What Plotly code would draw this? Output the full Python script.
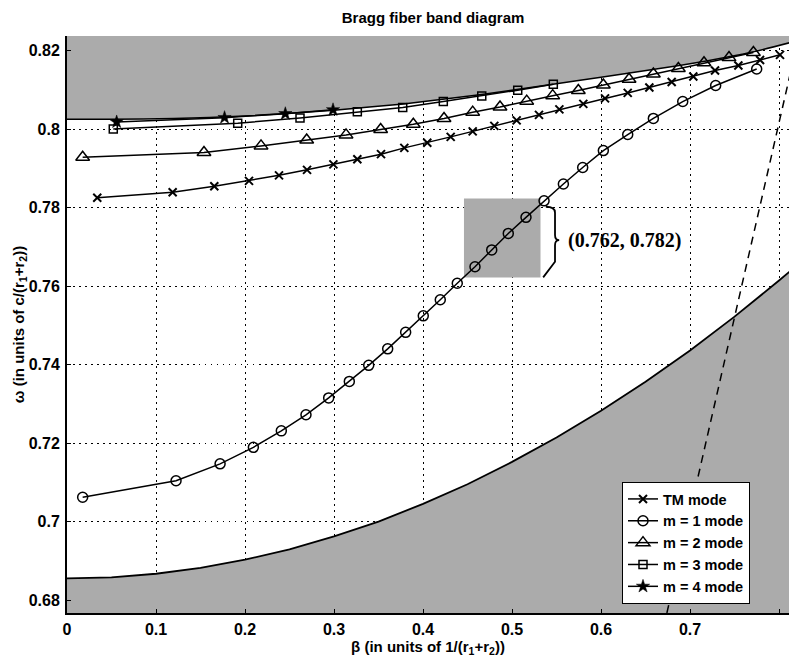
import plotly.graph_objects as go

# ---------------- data ----------------
tm_beta = [0.034, 0.1187, 0.1655, 0.2045, 0.2382, 0.2697, 0.2993, 0.3262, 0.3528, 0.379,
           0.4048, 0.4311, 0.4558, 0.4801, 0.5052, 0.5303, 0.5532, 0.5801, 0.6045, 0.630,
           0.6543, 0.6794, 0.7037, 0.7281, 0.7543, 0.7787, 0.8011]
tm_omega = [0.7825, 0.7839, 0.7854, 0.7868, 0.7882, 0.7896, 0.7910, 0.7923, 0.7936, 0.7952,
            0.7965, 0.7980, 0.7994, 0.8008, 0.8022, 0.8036, 0.8050, 0.8064, 0.8078, 0.8092,
            0.8106, 0.8120, 0.8134, 0.8149, 0.8162, 0.8176, 0.8189]

m1_beta = [0.0176, 0.1225, 0.172, 0.2094, 0.2408, 0.2685, 0.294, 0.3172, 0.339, 0.3603,
           0.3805, 0.4003, 0.4194, 0.4385, 0.4584, 0.4772, 0.4958, 0.5157, 0.536, 0.5577,
           0.5794, 0.6026, 0.630, 0.6588, 0.6918, 0.7288, 0.7749]
m1_omega = [0.7062, 0.7104, 0.7147, 0.7189, 0.7231, 0.7272, 0.7315, 0.7357, 0.7398, 0.7440,
            0.7482, 0.7524, 0.7565, 0.7607, 0.7649, 0.7692, 0.7734, 0.7775, 0.7817, 0.7860,
            0.7902, 0.7945, 0.7986, 0.8027, 0.8070, 0.8111, 0.8153]

m2_beta = [0.0176, 0.1539, 0.218, 0.2693, 0.3135, 0.3524, 0.3891, 0.4236, 0.4558, 0.4865,
           0.5165, 0.5457, 0.5745, 0.6026, 0.6315, 0.6588, 0.6869, 0.7157, 0.7438, 0.7712]
m2_omega = [0.7928, 0.7940, 0.7957, 0.7972, 0.7985, 0.7999, 0.8012, 0.8027, 0.8043, 0.8056,
            0.8071, 0.8085, 0.8098, 0.8112, 0.8127, 0.8140, 0.8154, 0.8169, 0.8182, 0.8195]

m3_beta = [0.052, 0.1918, 0.2618, 0.3262, 0.3772, 0.4228, 0.466, 0.5064, 0.5464]
m3_omega = [0.8000, 0.8015, 0.8028, 0.8044, 0.8055, 0.8070, 0.8084, 0.8099, 0.8114]

m4_beta = [0.0558, 0.177, 0.2453, 0.2989]
m4_omega = [0.8018, 0.8029, 0.8039, 0.8049]

# upper band edge (shaded above)
upper_beta = [0.0, 0.05, 0.12, 0.2, 0.25, 0.3, 0.378, 0.466, 0.546, 0.6, 0.66, 0.72, 0.77, 0.812]
upper_omega = [0.8025, 0.8025, 0.8027, 0.8033, 0.8040, 0.8048, 0.8064, 0.8088, 0.8114, 0.8132,
               0.8152, 0.8174, 0.8196, 0.8220]

# lower band edge (shaded below)
lower_beta = [0.0, 0.05, 0.1, 0.15, 0.2, 0.25, 0.3, 0.35, 0.4, 0.45, 0.5, 0.55, 0.6, 0.65,
              0.7, 0.75, 0.8, 0.812]
lower_omega = [0.6855, 0.6858, 0.6867, 0.6882, 0.6903, 0.6929, 0.6962, 0.7000, 0.7045, 0.7095,
               0.7152, 0.7214, 0.7282, 0.7356, 0.7436, 0.7522, 0.7614, 0.7637]

# light line (dashed)
light_beta = [0.674, 0.812]
light_omega = [0.6767, 0.8135]

x_ticks = [0, 0.1, 0.2, 0.3, 0.4, 0.5, 0.6, 0.7, 0.8]
x_ticktext = ["0", "0.1", "0.2", "0.3", "0.4", "0.5", "0.6", "0.7", "0.8"]
y_ticks = [0.68, 0.70, 0.72, 0.74, 0.76, 0.78, 0.80, 0.82]
y_ticktext = ["0.68", "0.7", "0.72", "0.74", "0.76", "0.78", "0.8", "0.82"]

X_RANGE = [0, 0.8112]
Y_RANGE = [0.6767, 0.8237]

# highlighted window and its label
win_beta = [0.446, 0.532]
win_omega = [0.7622, 0.7823]
win_label = "(0.762, 0.782)"

GRAY = "#ababab"
FONT = "Liberation Sans, Arial, sans-serif"

fig = go.Figure()

# shaded regions
fig.add_trace(go.Scatter(
    x=upper_beta + [upper_beta[-1], upper_beta[0]],
    y=upper_omega + [0.83, 0.83],
    fill="toself", fillcolor=GRAY, mode="none", showlegend=False, hoverinfo="skip"))
fig.add_trace(go.Scatter(
    x=upper_beta, y=upper_omega, mode="lines", line=dict(color="black", width=1.5, shape="spline", smoothing=0.6),
    showlegend=False, hoverinfo="skip"))
fig.add_trace(go.Scatter(
    x=lower_beta, y=lower_omega, mode="lines", fill="tozeroy", fillcolor=GRAY,
    line=dict(color="black", width=1.8), showlegend=False, hoverinfo="skip"))

# light line
fig.add_trace(go.Scatter(
    x=light_beta, y=light_omega, mode="lines",
    line=dict(color="black", width=1.5, dash="8px,6px"), showlegend=False, hoverinfo="skip"))

line_style = dict(color="black", width=1.5)
fig.add_trace(go.Scatter(x=tm_beta, y=tm_omega, mode="lines+markers", name="TM mode",
                         line=line_style,
                         marker=dict(symbol="x-thin-open", size=8, color="black",
                                     line=dict(color="black", width=2))))
fig.add_trace(go.Scatter(x=m1_beta, y=m1_omega, mode="lines+markers", name="m = 1 mode",
                         line=line_style,
                         marker=dict(symbol="circle-open", size=10, color="black",
                                     line=dict(color="black", width=1.5))))
fig.add_trace(go.Scatter(x=m2_beta, y=m2_omega, mode="lines+markers", name="m = 2 mode",
                         line=line_style,
                         marker=dict(symbol="triangle-up-open", size=12, color="black",
                                     line=dict(color="black", width=1.5))))
fig.add_trace(go.Scatter(x=m3_beta, y=m3_omega, mode="lines+markers", name="m = 3 mode",
                         line=line_style,
                         marker=dict(symbol="square-open", size=8, color="black",
                                     line=dict(color="black", width=1.5))))
fig.add_trace(go.Scatter(x=m4_beta, y=m4_omega, mode="lines+markers", name="m = 4 mode",
                         line=line_style,
                         marker=dict(symbol="star", size=10, color="black",
                                     line=dict(color="black", width=0.5))))

# highlighted window
fig.add_shape(type="rect", xref="x", yref="y",
              x0=win_beta[0], x1=win_beta[1], y0=win_omega[0], y1=win_omega[1],
              fillcolor=GRAY, line=dict(width=0), layer="between")

# curly brace next to the window
yt, yb = 0.7802, win_omega[0]
ym = 0.7717
xv, xtip, xtop, xbot = 0.5483, 0.5530, 0.538, 0.535
brace = (f"M {xtop},{yt} Q {xv},{yt} {xv},{yt-0.0015} L {xv},{ym+0.0013} "
         f"Q {xv},{ym} {xtip},{ym} Q {xv},{ym} {xv},{ym-0.0013} L {xv},{yb+0.0040} "
         f"L {xbot},{yb}")
fig.add_shape(type="path", xref="x", yref="y", path=brace,
              line=dict(color="black", width=1.8), layer="above")

fig.add_annotation(x=0.5607, y=ym, xref="x", yref="y", text="<b>" + win_label + "</b>",
                   showarrow=False, xanchor="left", yanchor="middle",
                   font=dict(family="Liberation Serif, Times New Roman, serif", size=20, color="black"))

fig.update_layout(
    width=789, height=659,
    margin=dict(l=67, r=0, t=36, b=46),
    paper_bgcolor="white", plot_bgcolor="white",
    font=dict(family=FONT, size=16, color="black"),
    title=dict(text="<b>Bragg fiber band diagram</b>", x=0.507, xref="paper", xanchor="center",
               y=1 - 17.5 / 659, yref="container", yanchor="middle",
               font=dict(family=FONT, size=15, color="black")),
    showlegend=True,
    legend=dict(x=(622 - 67) / 722, y=(613 - 482) / 577, xanchor="left", yanchor="top",
                bgcolor="white", bordercolor="black", borderwidth=1,
                font=dict(family=FONT, size=14.5, color="black", weight="bold"),
                tracegroupgap=0, itemwidth=30),
    xaxis=dict(range=X_RANGE, tickvals=x_ticks, ticktext=x_ticktext,
               tickfont=dict(family=FONT, size=16, weight="bold"),
               showgrid=True, gridcolor="black", gridwidth=1, griddash="1.5px,4.5px",
               showline=True, linecolor="black", linewidth=1.5,
               ticks="inside", ticklen=4, tickcolor="black", zeroline=False,
               ticklabelstandoff=1,
               title=dict(text="<b>β (in units of 1/(r<sub>1</sub>+r<sub>2</sub>))</b>",
                          font=dict(family=FONT, size=15), standoff=2)),
    yaxis=dict(range=Y_RANGE, tickvals=y_ticks, ticktext=y_ticktext,
               tickfont=dict(family=FONT, size=16, weight="bold"),
               showgrid=True, gridcolor="black", gridwidth=1, griddash="1.5px,4.5px",
               showline=True, linecolor="black", linewidth=2,
               ticks="inside", ticklen=4, tickcolor="black", zeroline=False,
               ticklabelstandoff=2,
               title=dict(text="<b>ω (in units of c/(r<sub>1</sub>+r<sub>2</sub>))</b>",
                          font=dict(family=FONT, size=15), standoff=0)),
)

fig.write_html("out.html")
